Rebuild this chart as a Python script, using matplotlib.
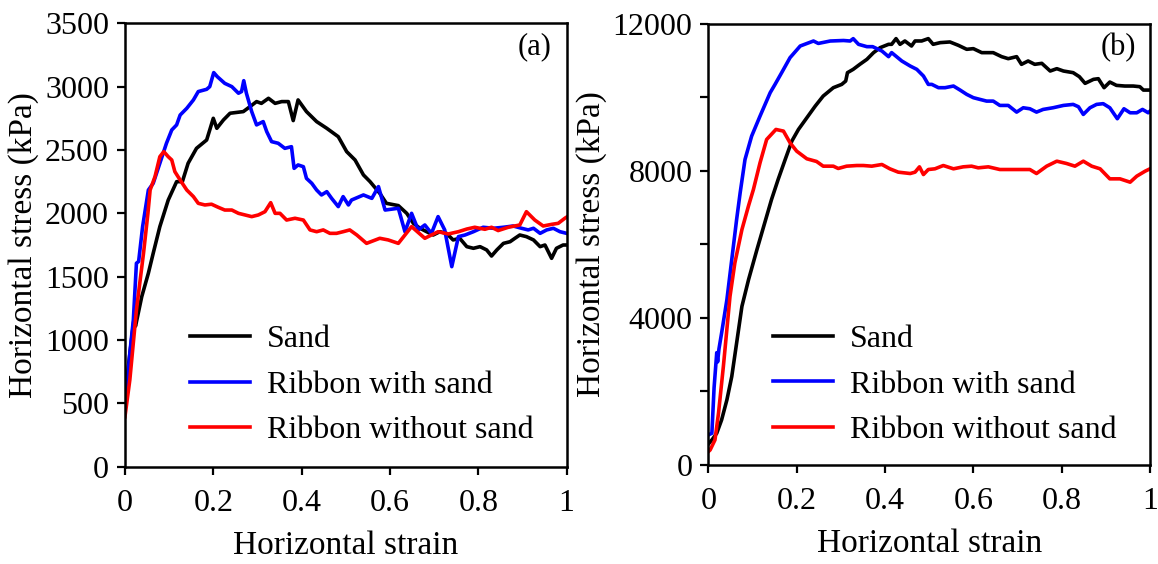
import matplotlib
matplotlib.use("Agg")
import matplotlib.pyplot as plt
from matplotlib.ticker import FuncFormatter

plt.rcParams['font.family'] = ['Liberation Serif', 'DejaVu Serif']

# ---- panel (a) data: horizontal strain vs horizontal stress (kPa) ----
a_sand_x = [0, 0.008, 0.02, 0.024, 0.038, 0.053, 0.064, 0.079, 0.098, 0.117, 0.13,
            0.143, 0.162, 0.185, 0.192, 0.200, 0.208, 0.223, 0.238, 0.268, 0.283,
            0.298, 0.309, 0.325, 0.340, 0.355, 0.370, 0.381, 0.392, 0.411, 0.434,
            0.457, 0.483, 0.502, 0.521, 0.540, 0.555, 0.577, 0.592, 0.619, 0.638,
            0.653, 0.668, 0.683, 0.698, 0.713, 0.728, 0.743, 0.758, 0.774, 0.789,
            0.804, 0.819, 0.830, 0.842, 0.857, 0.872, 0.883, 0.894, 0.909, 0.925,
            0.940, 0.951, 0.966, 0.977, 0.992, 1.0]
a_sand_y = [450, 800, 1150, 1110, 1342, 1527, 1685, 1895, 2105, 2250, 2250,
            2395, 2513, 2579, 2658, 2750, 2671, 2737, 2790, 2803, 2842,
            2882, 2868, 2908, 2868, 2882, 2882, 2732, 2895, 2803, 2724,
            2671, 2605, 2487, 2421, 2303, 2250, 2158, 2079, 2061, 2000,
            1921, 1882, 1855, 1829, 1855, 1842, 1790, 1803, 1737, 1724,
            1737, 1711, 1663, 1711, 1763, 1776, 1803, 1829, 1816, 1790,
            1737, 1750, 1645, 1724, 1750, 1750]

a_rws_x = [0, 0.011, 0.019, 0.026, 0.031, 0.040, 0.053, 0.064, 0.079, 0.094, 0.106,
           0.117, 0.125, 0.140, 0.155, 0.166, 0.185, 0.192, 0.201, 0.209, 0.226,
           0.242, 0.257, 0.264, 0.269, 0.275, 0.287, 0.298, 0.313, 0.321, 0.332,
           0.347, 0.362, 0.377, 0.383, 0.392, 0.404, 0.411, 0.423, 0.434, 0.445,
           0.457, 0.468, 0.483, 0.494, 0.506, 0.513, 0.540, 0.559, 0.574, 0.589,
           0.619, 0.634, 0.649, 0.664, 0.679, 0.694, 0.709, 0.724, 0.740, 0.755,
           0.770, 0.789, 0.811, 0.834, 0.857, 0.879, 0.898, 0.913, 0.925, 0.940,
           0.955, 0.970, 0.985, 1.0]
a_rws_y = [447, 895, 1158, 1606, 1620, 1895, 2184, 2237, 2395, 2553, 2658,
           2698, 2776, 2829, 2895, 2961, 2979, 3000, 3111, 3079, 3026,
           3000, 2948, 2961, 3047, 2948, 2803, 2698, 2724, 2645, 2566,
           2553, 2513, 2526, 2355, 2382, 2368, 2276, 2237, 2184, 2145,
           2171, 2118, 2053, 2132, 2066, 2105, 2145, 2118, 2211, 2026,
           2040, 1855, 2000, 1869, 1908, 1842, 1974, 1869, 1579, 1816,
           1829, 1855, 1890, 1882, 1890, 1900, 1882, 1869, 1882, 1842,
           1869, 1882, 1855, 1842]

a_rwo_x = [0, 0.011, 0.026, 0.042, 0.052, 0.057, 0.068, 0.079, 0.088, 0.098, 0.106,
           0.113, 0.125, 0.140, 0.155, 0.166, 0.181, 0.196, 0.211, 0.226, 0.242,
           0.257, 0.272, 0.287, 0.302, 0.317, 0.330, 0.340, 0.351, 0.366, 0.385,
           0.404, 0.419, 0.434, 0.449, 0.464, 0.479, 0.494, 0.509, 0.525, 0.547,
           0.577, 0.596, 0.619, 0.649, 0.679, 0.709, 0.732, 0.755, 0.774, 0.792,
           0.815, 0.830, 0.845, 0.868, 0.894, 0.909, 0.928, 0.947, 0.966, 0.981,
           0.996, 1.0]
a_rwo_y = [395, 684, 1237, 1684, 2000, 2184, 2289, 2447, 2487, 2447, 2421,
           2329, 2263, 2184, 2132, 2079, 2066, 2072, 2048, 2026, 2026,
           2000, 1987, 1974, 1987, 2013, 2084, 2000, 2000, 1947, 1961,
           1947, 1869, 1855, 1869, 1842, 1842, 1855, 1869, 1829, 1763,
           1803, 1790, 1763, 1895, 1803, 1855, 1837, 1855, 1876, 1890,
           1874, 1890, 1864, 1890, 1908, 2013, 1947, 1900, 1913, 1921,
           1961, 1970]

# ---- panel (b) data ----
b_sand_x = [0, 0.008, 0.019, 0.030, 0.042, 0.053, 0.064, 0.076, 0.091, 0.110, 0.132,
            0.143, 0.158, 0.174, 0.189, 0.204, 0.223, 0.242, 0.260, 0.283, 0.302,
            0.311, 0.315, 0.328, 0.343, 0.359, 0.374, 0.389, 0.408, 0.415, 0.425,
            0.434, 0.445, 0.460, 0.468, 0.483, 0.498, 0.509, 0.525, 0.547, 0.566,
            0.585, 0.600, 0.619, 0.645, 0.664, 0.679, 0.698, 0.709, 0.724, 0.739,
            0.755, 0.774, 0.789, 0.804, 0.826, 0.840, 0.853, 0.872, 0.883, 0.896,
            0.909, 0.924, 0.943, 0.962, 0.977, 0.985, 1.0]
b_sand_y = [560, 674, 856, 1219, 1765, 2400, 3311, 4310, 5037, 5855, 6764,
            7219, 7765, 8310, 8810, 9128, 9446, 9764, 10037, 10265, 10355,
            10446, 10674, 10765, 10901, 11037, 11219, 11355, 11446, 11446, 11601,
            11446, 11537, 11400, 11537, 11537, 11601, 11446, 11492, 11510, 11419,
            11310, 11328, 11219, 11219, 11110, 11055, 11110, 10901, 10992, 10901,
            10928, 10719, 10783, 10719, 10674, 10565, 10383, 10492, 10510, 10265,
            10419, 10328, 10310, 10310, 10292, 10200, 10200]

b_rws_x = [0, 0.008, 0.013, 0.019, 0.021, 0.024, 0.030, 0.042, 0.053, 0.064, 0.072,
           0.083, 0.098, 0.117, 0.140, 0.151, 0.166, 0.185, 0.208, 0.238, 0.249,
           0.276, 0.306, 0.321, 0.328, 0.340, 0.359, 0.372, 0.393, 0.408, 0.415,
           0.438, 0.457, 0.472, 0.487, 0.498, 0.506, 0.521, 0.536, 0.555, 0.570,
           0.585, 0.600, 0.615, 0.630, 0.645, 0.660, 0.679, 0.698, 0.713, 0.728,
           0.743, 0.758, 0.781, 0.804, 0.826, 0.838, 0.849, 0.864, 0.879, 0.894,
           0.909, 0.926, 0.941, 0.955, 0.970, 0.983, 0.996, 1.0]
b_rws_y = [810, 856, 2100, 3050, 2800, 3150, 3583, 4492, 5583, 6674, 7402,
           8310, 8946, 9491, 10129, 10355, 10674, 11083, 11400, 11536, 11470,
           11536, 11550, 11536, 11600, 11446, 11382, 11382, 11264, 11110, 11220,
           10992, 10855, 10764, 10583, 10355, 10355, 10265, 10265, 10310, 10200,
           10083, 9993, 9946, 9900, 9900, 9782, 9782, 9600, 9718, 9691,
           9600, 9673, 9720, 9782, 9810, 9746, 9537, 9718, 9810, 9830,
           9718, 9420, 9691, 9582, 9582, 9673, 9582, 9628]

b_rwo_x = [0, 0.004, 0.015, 0.023, 0.034, 0.049, 0.060, 0.076, 0.091, 0.102, 0.117,
           0.132, 0.153, 0.170, 0.185, 0.200, 0.223, 0.245, 0.260, 0.283, 0.294,
           0.313, 0.336, 0.351, 0.370, 0.393, 0.411, 0.430, 0.457, 0.468, 0.478,
           0.487, 0.498, 0.513, 0.532, 0.555, 0.577, 0.596, 0.611, 0.634, 0.660,
           0.683, 0.706, 0.728, 0.743, 0.766, 0.789, 0.811, 0.830, 0.849, 0.868,
           0.887, 0.909, 0.932, 0.955, 0.970, 0.989, 1.0]
b_rwo_y = [355, 400, 674, 1402, 2673, 4582, 5492, 6401, 7050, 7492, 8219,
           8855, 9128, 9083, 8765, 8537, 8329, 8256, 8128, 8128, 8065,
           8128, 8146, 8146, 8128, 8174, 8056, 7965, 7928, 7965, 8110,
           7900, 8037, 8056, 8146, 8056, 8110, 8128, 8083, 8110, 8037,
           8037, 8037, 8037, 7928, 8128, 8264, 8201, 8128, 8264, 8128,
           8056, 7783, 7783, 7692, 7856, 7992, 8056]

labels = ['Sand', 'Ribbon with sand', 'Ribbon without sand']
colors = ['#000000', '#0000ff', '#ff0000']
x_ticks = [0, 0.2, 0.4, 0.6, 0.8, 1.0]

TICK_FS = 23
LABEL_FS = 24
LEGEND_FS = 23
TAG_FS = 22

fig = plt.figure(figsize=(11.58, 5.64), dpi=100)
ax1 = fig.add_axes([0.1079, 0.1725, 0.3814, 0.7862])
ax2 = fig.add_axes([0.6117, 0.1761, 0.3814, 0.7814])


def style(ax, ylim, yticks, ylabels, tag):
    ax.set_xlim(0, 1)
    ax.set_ylim(*ylim)
    ax.set_xticks(x_ticks)
    ax.xaxis.set_major_formatter(FuncFormatter(lambda v, p: '%g' % v))
    ax.set_yticks(yticks)
    ax.set_yticklabels(ylabels)
    for s in ax.spines.values():
        s.set_linewidth(1.8)
    ax.tick_params(direction='out', length=6, width=1.6, labelsize=TICK_FS)
    ax.tick_params(axis='x', pad=10)
    ax.tick_params(axis='y', pad=5.5)
    ax.set_xlabel('Horizontal strain', fontsize=LABEL_FS, labelpad=9)
    ax.set_ylabel('Horizontal stress (kPa)', fontsize=LABEL_FS, labelpad=4)
    ax.text(0.928, 0.947, tag, transform=ax.transAxes, fontsize=TAG_FS,
            ha='center', va='center')


series_a = [(a_sand_x, a_sand_y), (a_rws_x, a_rws_y), (a_rwo_x, a_rwo_y)]
series_b = [(b_sand_x, b_sand_y), (b_rws_x, b_rws_y), (b_rwo_x, b_rwo_y)]

for ax, series in [(ax1, series_a), (ax2, series_b)]:
    for (x, y), lab, c in zip(series, labels, colors):
        ax.plot(x, y, color=c, lw=2.6, label=lab)

style(ax1, (0, 3500), list(range(0, 3501, 500)),
      [str(v) for v in range(0, 3501, 500)], '(a)')
style(ax2, (0, 12000), list(range(0, 12001, 2000)),
      ['0', '', '4000', '', '8000', '', '12000'], '(b)')

for ax, cx, cy in [(ax1, 0.147, 0.184), (ax2, 0.146, 0.181)]:
    ax.legend(loc='center left', bbox_to_anchor=(cx, cy), frameon=False,
              fontsize=LEGEND_FS, handlelength=1.88, handletextpad=0.54,
              labelspacing=0.5, borderpad=0, borderaxespad=0)

fig.savefig('out.png', dpi=100)
